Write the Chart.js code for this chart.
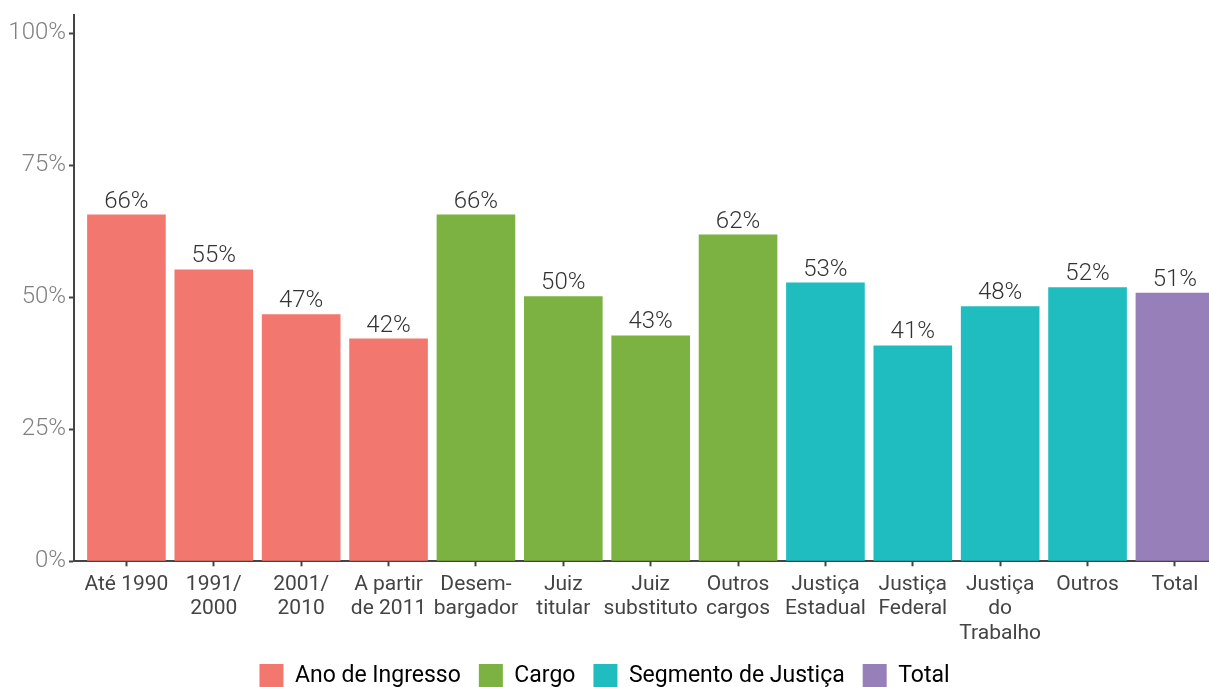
<!DOCTYPE html>
<html>
<head>
<meta charset="utf-8">
<script src="https://cdn.jsdelivr.net/npm/chart.js@4.4.1/dist/chart.umd.min.js"></script>
<style>
    html, body { margin: 0; padding: 0; background: #fff; overflow: hidden; }
    #wrap { width: 1209px; height: 687px; position: relative; }
</style>
</head>
<body>
<div id="wrap"><canvas id="barChart"></canvas></div>
<script>
// categories (multi-line tick labels)
const categories = [
    ['Até 1990'], ['1991/', '2000'], ['2001/', '2010'], ['A partir', 'de 2011'],
    ['Desem-', 'bargador'], ['Juiz', 'titular'], ['Juiz', 'substituto'], ['Outros', 'cargos'],
    ['Justiça', 'Estadual'], ['Justiça', 'Federal'], ['Justiça', 'do', 'Trabalho'], ['Outros'],
    ['Total']
];
const values = [0.657, 0.553, 0.468, 0.422, 0.657, 0.502, 0.428, 0.619, 0.528, 0.409, 0.483, 0.519, 0.509];
const groupOf = [
    'Ano de Ingresso', 'Ano de Ingresso', 'Ano de Ingresso', 'Ano de Ingresso',
    'Cargo', 'Cargo', 'Cargo', 'Cargo',
    'Segmento de Justiça', 'Segmento de Justiça', 'Segmento de Justiça', 'Segmento de Justiça',
    'Total'
];
const groups = ['Ano de Ingresso', 'Cargo', 'Segmento de Justiça', 'Total'];
const groupColors = ['#f2786f', '#7bb241', '#1fbdc0', '#977fb9'];
const yTicks = [0, 0.25, 0.5, 0.75, 1];

const barColors = groupOf.map(g => groupColors[groups.indexOf(g)]);

// percent labels above the bars
const valueLabels = {
    id: 'valueLabels',
    afterDatasetsDraw(chart) {
        const ctx = chart.ctx;
        const meta = chart.getDatasetMeta(0);
        ctx.save();
        ctx.font = '300 24px Roboto';
        ctx.fillStyle = '#333';
        ctx.textAlign = 'center';
        ctx.textBaseline = 'alphabetic';
        meta.data.forEach((bar, i) => {
            ctx.fillText(Math.round(values[i] * 100) + '%', bar.x, bar.y - 7);
        });
        ctx.restore();
    }
};

const ctx = document.getElementById('barChart').getContext('2d');
new Chart(ctx, {
    type: 'bar',
    data: {
        datasets: [{
            data: values.map((v, i) => ({ x: i, y: v })),
            backgroundColor: barColors,
            borderWidth: 0,
            barPercentage: 0.9,
            categoryPercentage: 1
        }]
    },
    options: {
        responsive: true,
        maintainAspectRatio: false,
        animation: false,
        layout: { padding: { top: 14, left: 0, right: 0, bottom: -11 } },
        scales: {
            x: {
                type: 'linear',
                offset: false,
                min: -0.6,
                max: 12.39,
                afterBuildTicks: s => { s.ticks = categories.map((c, i) => ({ value: i })); },
                afterFit: s => { s.height -= 6; },
                grid: { offset: false, drawOnChartArea: false, drawTicks: true, tickLength: 5, tickColor: '#444', tickWidth: 2 },
                border: { display: true, color: '#444', width: 2 },
                ticks: {
                    autoSkip: false,
                    maxRotation: 0,
                    padding: 6,
                    color: '#444',
                    font: { family: 'Roboto', size: 21, lineHeight: 1.17 },
                    callback: v => categories[v]
                }
            },
            y: {
                min: 0,
                max: 1.035,
                afterBuildTicks: s => { s.ticks = yTicks.map(v => ({ value: v })); },
                afterFit: s => { s.width = 74; },
                grid: { drawOnChartArea: false, drawTicks: true, tickLength: 5, tickColor: '#444', tickWidth: 2 },
                border: { display: true, color: '#444', width: 2 },
                ticks: {
                    padding: 3,
                    color: '#808080',
                    font: { family: 'Roboto', size: 24, weight: '300', lineHeight: 1 },
                    callback: v => Math.round(v * 100) + '%'
                }
            }
        },
        plugins: {
            tooltip: { enabled: false },
            legend: {
                position: 'bottom',
                labels: {
                    boxWidth: 24,
                    boxHeight: 24,
                    padding: 18,
                    color: '#444',
                    font: { family: 'Roboto', size: 23 },
                    generateLabels: () => groups.map((g, i) => ({
                        text: g,
                        fillStyle: groupColors[i],
                        strokeStyle: groupColors[i],
                        lineWidth: 0,
                        hidden: false
                    }))
                }
            }
        }
    },
    plugins: [valueLabels]
});
</script>
</body>
</html>
